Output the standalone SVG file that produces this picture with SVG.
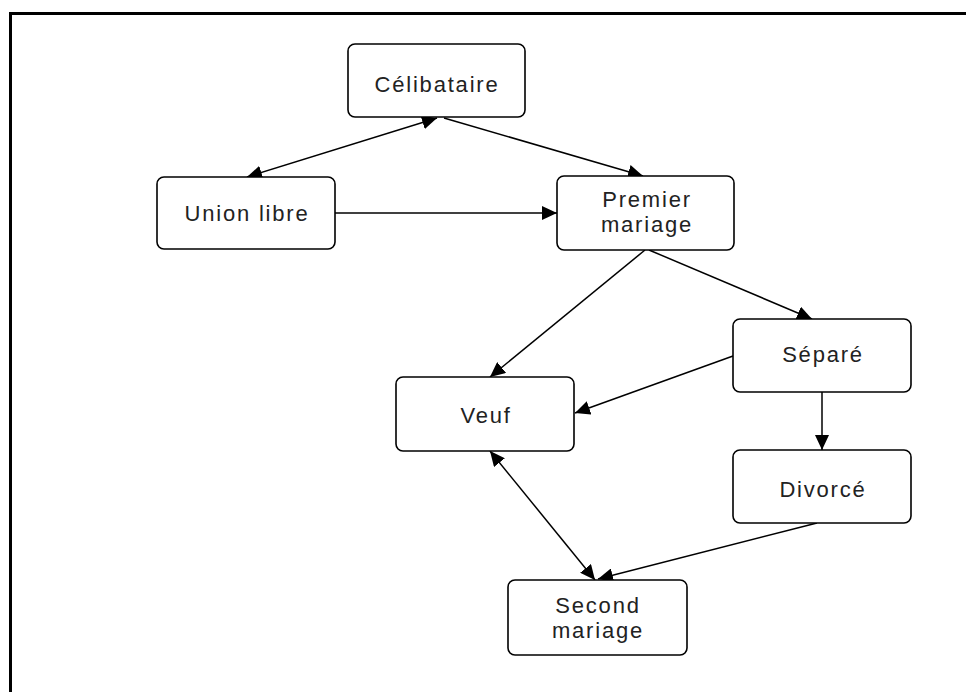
<svg xmlns="http://www.w3.org/2000/svg" width="966" height="692" viewBox="0 0 966 692">
  <style>
    .box { fill: #ffffff; stroke: #000000; stroke-width: 1.6; }
    .lbl { font-family: "Liberation Sans", Arial, sans-serif; font-size: 22px; letter-spacing: 1.8px; fill: #222222; text-anchor: middle; }
    .conn { stroke: #000000; stroke-width: 1.5; fill: none; }
  </style>
  <defs>
    <marker id="arrow" markerUnits="userSpaceOnUse" markerWidth="16" markerHeight="14" refX="15" refY="7" orient="auto-start-reverse">
      <path d="M0,0 L15,7 L0,14 z" fill="#000000"/>
    </marker>
  </defs>
  <rect x="0" y="0" width="966" height="692" fill="#ffffff"/>
  <path d="M10.5,692 L10.5,13.5 L966,13.5" fill="none" stroke="#000000" stroke-width="3"/>

  <g id="connectors">
    <line class="conn" x1="437" y1="118" x2="247" y2="177" marker-start="url(#arrow)" marker-end="url(#arrow)"/>
    <line class="conn" x1="444" y1="118" x2="643" y2="176" marker-end="url(#arrow)"/>
    <line class="conn" x1="335" y1="213" x2="557" y2="213" marker-end="url(#arrow)"/>
    <line class="conn" x1="645" y1="250" x2="490" y2="377" marker-end="url(#arrow)"/>
    <line class="conn" x1="649" y1="250" x2="812" y2="319" marker-end="url(#arrow)"/>
    <line class="conn" x1="733" y1="356" x2="575" y2="413" marker-end="url(#arrow)"/>
    <line class="conn" x1="822" y1="392" x2="822" y2="450" marker-end="url(#arrow)"/>
    <line class="conn" x1="490" y1="451" x2="595" y2="580" marker-start="url(#arrow)" marker-end="url(#arrow)"/>
    <line class="conn" x1="817" y1="523" x2="598" y2="579" marker-end="url(#arrow)"/>
  </g>

  <g id="celibataire">
    <rect class="box" x="348" y="44" width="177" height="73" rx="7"/>
    <text class="lbl" x="437" y="92">Célibataire</text>
  </g>
  <g id="union-libre">
    <rect class="box" x="157" y="177" width="178" height="72" rx="7"/>
    <text class="lbl" x="247" y="221">Union libre</text>
  </g>
  <g id="premier-mariage">
    <rect class="box" x="557" y="176" width="177" height="74" rx="7"/>
    <text class="lbl" x="647" y="207">Premier</text>
    <text class="lbl" x="647" y="232">mariage</text>
  </g>
  <g id="veuf">
    <rect class="box" x="396" y="377" width="178" height="74" rx="7"/>
    <text class="lbl" x="486" y="423">Veuf</text>
  </g>
  <g id="separe">
    <rect class="box" x="733" y="319" width="178" height="73" rx="7"/>
    <text class="lbl" x="823" y="362">Séparé</text>
  </g>
  <g id="divorce">
    <rect class="box" x="733" y="450" width="178" height="73" rx="7"/>
    <text class="lbl" x="823" y="497">Divorcé</text>
  </g>
  <g id="second-mariage">
    <rect class="box" x="508" y="580" width="179" height="75" rx="7"/>
    <text class="lbl" x="598" y="613">Second</text>
    <text class="lbl" x="598" y="638">mariage</text>
  </g>
</svg>
